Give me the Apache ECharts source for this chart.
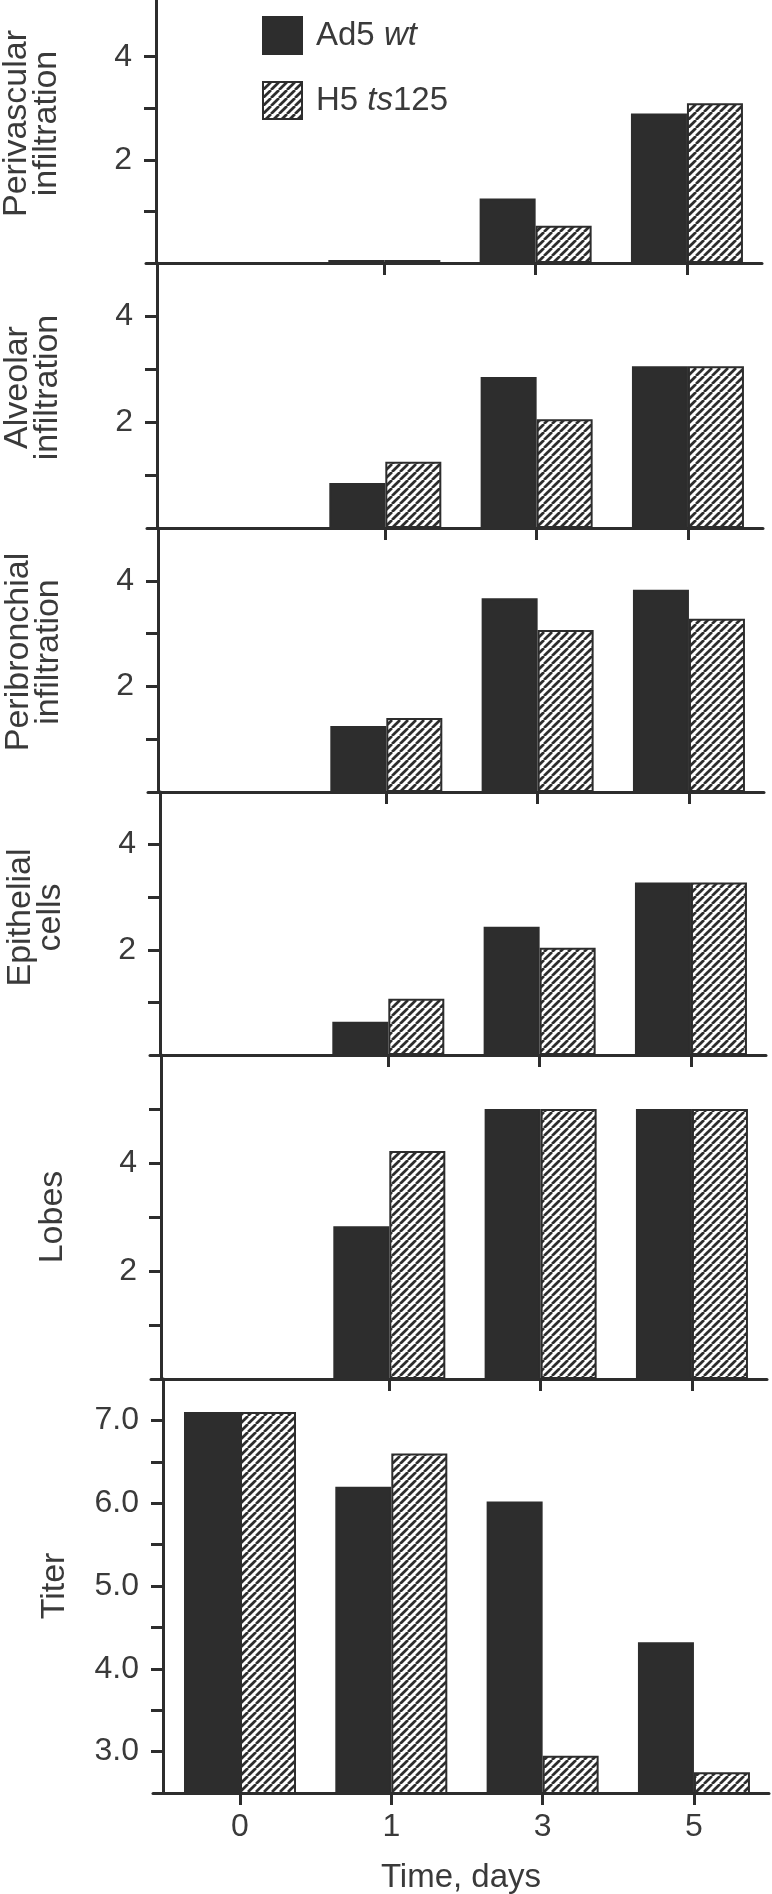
<!DOCTYPE html>
<html><head><meta charset="utf-8">
<script src="https://cdn.jsdelivr.net/npm/echarts@6/dist/echarts.min.js"></script>
<style>html,body{margin:0;padding:0;background:#fff}#c{width:772px;height:1894px}</style>
</head><body><div id="c"></div>
<script>
// ---------- data ----------
const days = ['0', '1', '3', '5'];
const seriesNames = ['Ad5 wt', 'H5 ts125'];
const panelTitles = ['Perivascular\ninfiltration', 'Alveolar\ninfiltration', 'Peribronchial\ninfiltration', 'Epithelial\ncells', 'Lobes', 'Titer'];

const perivascularWt = [0, 0.06, 1.25, 2.9];
const perivascularTs = [0, 0.06, 0.72, 3.1];
const alveolarWt = [0, 0.85, 2.85, 3.05];
const alveolarTs = [0, 1.25, 2.05, 3.05];
const peribronchialWt = [0, 1.25, 3.67, 3.83];
const peribronchialTs = [0, 1.4, 3.07, 3.28];
const epithelialWt = [0, 0.63, 2.44, 3.28];
const epithelialTs = [0, 1.07, 2.04, 3.28];
const lobesWt = [0, 2.83, 5, 5];
const lobesTs = [0, 4.22, 5, 5];
const titerWt = [7.1, 6.2, 6.02, 4.32];
const titerTs = [7.1, 6.6, 2.95, 2.75];

const scoreTicks = [1, 2, 3, 4];
const scoreLabels = [2, 4];
const lobesTicks = [1, 2, 3, 4, 5];
const lobesLabels = [2, 4];
const titerTicks = [3.0, 3.5, 4.0, 4.5, 5.0, 5.5, 6.0, 6.5, 7.0];
const titerLabels = [3.0, 4.0, 5.0, 6.0, 7.0];

// ---------- layout ----------
const panelTop = [0, 263, 528, 792, 1055, 1379];
const panelBase = [263, 528, 792, 1055, 1379, 1793];
const panelShift = [-7, -6, -5, -3, -2, 0];
const yMin = [0, 0, 0, 0, 0, 2.5];
const yMax = [5.1, 5, 5, 5, 6, 7.5];
const nameLift = [16, 16, 16, 12, 0, 0];

const panelWt = [perivascularWt, alveolarWt, peribronchialWt, epithelialWt, lobesWt, titerWt];
const panelTs = [perivascularTs, alveolarTs, peribronchialTs, epithelialTs, lobesTs, titerTs];
const panelTicks = [scoreTicks, scoreTicks, scoreTicks, scoreTicks, lobesTicks, titerTicks];
const panelLabels = [scoreLabels, scoreLabels, scoreLabels, scoreLabels, lobesLabels, titerLabels];

const INK = '#2d2d2d';
const TXT = '#3a3a3a';
const FONT = '"Liberation Sans", Arial, Helvetica, sans-serif';

function hatch() {
  const s = 8, c = document.createElement('canvas');
  c.width = s; c.height = s;
  const g = c.getContext('2d');
  g.fillStyle = '#ffffff'; g.fillRect(0, 0, s, s);
  g.strokeStyle = INK; g.lineWidth = 2.7;
  for (let k = -1; k <= 1; k++) { g.beginPath(); g.moveTo(k * s, s); g.lineTo(k * s + s, 0); g.stroke(); }
  return c;
}
const hatchPattern = { image: hatch(), repeat: 'repeat' };

const grids = [], xAxes = [], yAxes = [], series = [];
const n = panelTitles.length;
for (let i = 0; i < n; i++) {
  const last = i === n - 1;
  const twoLine = panelTitles[i].indexOf('\n') >= 0;
  grids.push({
    left: 153 + panelShift[i], width: 616, top: panelTop[i], height: panelBase[i] - panelTop[i],
    containLabel: false, outerBoundsMode: 'none'
  });
  xAxes.push({
    gridIndex: i, type: 'value', min: -0.575, max: 3.496,
    splitLine: { show: false },
    axisLine: { onZero: false, lineStyle: { color: INK, width: 3 } },
    axisTick: { customValues: last ? [0, 1, 2, 3] : [1, 2, 3], length: 12, lineStyle: { color: INK, width: 3 } },
    axisLabel: {
      show: last, customValues: [0, 1, 2, 3], formatter: v => days[Math.round(v)],
      fontSize: 32, color: TXT, fontFamily: FONT, margin: 18
    },
    name: last ? 'Time, days' : '', nameLocation: 'middle', nameGap: 68,
    nameTextStyle: { fontSize: 33, color: TXT, fontFamily: FONT }
  });
  yAxes.push({
    gridIndex: i, type: 'value', min: yMin[i], max: yMax[i], offset: -10,
    splitLine: { show: false },
    axisLine: { show: true, onZero: false, lineStyle: { color: INK, width: 3 } },
    axisTick: { show: true, customValues: panelTicks[i], length: 12, lineStyle: { color: INK, width: 3 } },
    axisLabel: {
      customValues: panelLabels[i], formatter: v => last ? v.toFixed(1) : String(v),
      fontSize: 32, color: TXT, fontFamily: FONT, margin: 24
    },
    name: panelTitles[i], nameLocation: 'middle', nameGap: twoLine ? 94 : 90,
    nameTextStyle: {
      fontSize: 34, lineHeight: twoLine ? 30 : 36, color: TXT, fontFamily: FONT,
      padding: [0, 0, 0, nameLift[i]]
    }
  });
  [panelWt[i], panelTs[i]].forEach((vals, k) => {
    series.push({
      type: 'bar', name: seriesNames[k], xAxisIndex: i, yAxisIndex: i,
      data: vals.map((v, j) => [j, v]),
      barWidth: 56, barGap: '0%',
      itemStyle: { color: k === 0 ? INK : hatchPattern, borderColor: INK, borderWidth: 2 }
    });
  });
}

const legendRich = {
  a: { fontSize: 33, color: TXT, fontFamily: FONT, padding: [0, 0, 0, 9] },
  r: { fontSize: 33, color: TXT, fontFamily: FONT },
  i: { fontSize: 33, color: TXT, fontFamily: FONT, fontStyle: 'italic' }
};

const chart = echarts.init(document.getElementById('c'), null, { renderer: 'canvas' });
chart.setOption({
  animation: false,
  backgroundColor: '#ffffff',
  legend: {
    data: seriesNames, left: 257, top: 11, orient: 'vertical',
    itemWidth: 39, itemHeight: 37, itemGap: 26, selectedMode: false, icon: 'rect',
    formatter: name => name === seriesNames[0] ? '{a|Ad5 }{i|wt}' : '{a|H5 }{i|ts}{r|125}',
    textStyle: { rich: legendRich, fontSize: 33, color: TXT }
  },
  grid: grids, xAxis: xAxes, yAxis: yAxes, series: series
});
</script></body></html>
